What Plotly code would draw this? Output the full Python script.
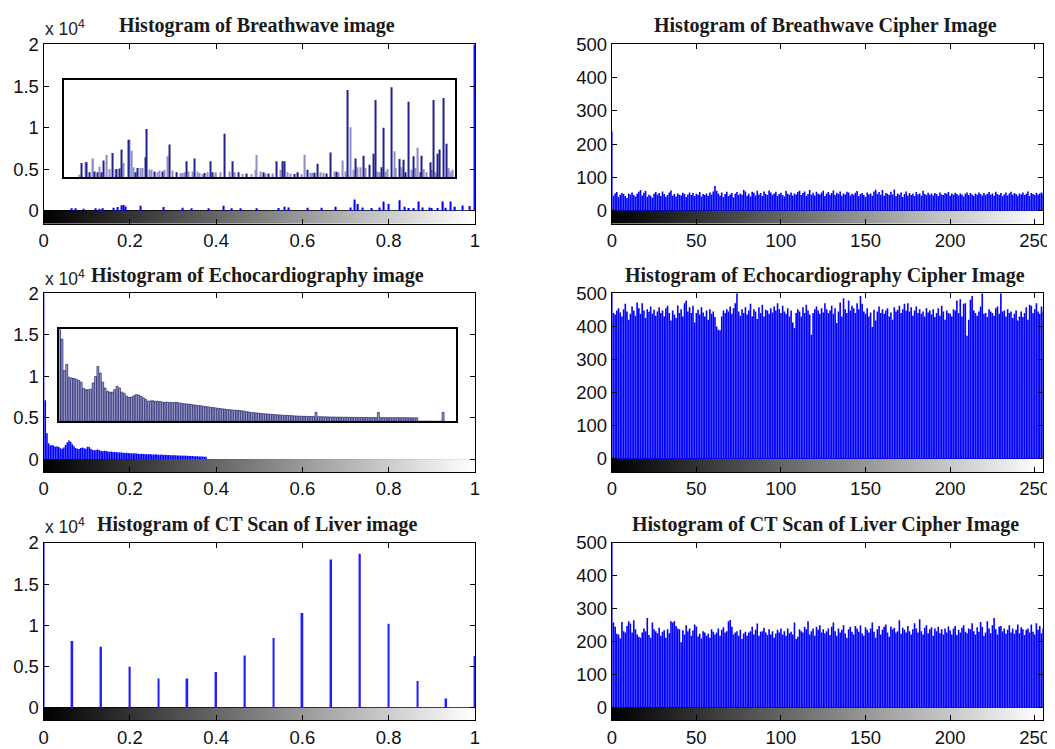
import numpy as np
import plotly.graph_objects as go

# ------------------------------------------------------------------ data
# Breathwave image histogram (sparse: x position in [0,1], pixel count)
bw_bins = [0.066, 0.074, 0.093, 0.120, 0.130, 0.138, 0.163, 0.172, 0.181, 0.186, 0.190, 0.225,
           0.278, 0.323, 0.344, 0.382, 0.417, 0.437, 0.456, 0.495, 0.544, 0.559, 0.567, 0.613,
           0.644, 0.676, 0.711, 0.720, 0.729, 0.740, 0.760, 0.778, 0.789, 0.800, 0.825, 0.836,
           0.846, 0.857, 0.869, 0.879, 0.894, 0.900, 0.914, 0.926, 0.931, 0.944, 0.954, 0.971,
           0.988, 1.000]
bw_counts = [300, 300, 250, 300, 250, 300, 350, 450, 650, 700, 500, 600,
             450, 350, 300, 300, 600, 300, 300, 300, 320, 480, 400, 350,
             350, 480, 400, 1350, 800, 400, 320, 400, 1100, 800, 1270, 480,
             320, 320, 1100, 400, 400, 320, 320, 1100, 350, 1100, 480, 640,
             560, 25000]

# Breathwave zoomed inset (dark and light stems; tops read on the main scale)
bw_inset_dark_x = [0.089, 0.100, 0.107, 0.118, 0.126, 0.135, 0.140, 0.159, 0.169, 0.177, 0.181, 0.196,
                   0.214, 0.218, 0.237, 0.239, 0.257, 0.275, 0.292, 0.308, 0.332, 0.350, 0.373, 0.387,
                   0.392, 0.420, 0.439, 0.452, 0.471, 0.509, 0.522, 0.540, 0.554, 0.559, 0.581, 0.590,
                   0.612, 0.629, 0.635, 0.657, 0.666, 0.680, 0.704, 0.723, 0.741, 0.755, 0.765, 0.769,
                   0.783, 0.788, 0.806, 0.825, 0.834, 0.839, 0.845, 0.857, 0.874, 0.877, 0.896, 0.905,
                   0.914, 0.919, 0.927, 0.934]
bw_inset_dark_top = [5800, 5900, 4700, 4800, 4700, 4700, 6100, 7000, 5100, 5150, 7400, 8570,
                     4700, 5200, 6500, 9850, 4800, 4800, 8000, 4700, 6000, 6350, 4600, 6000,
                     4700, 9300, 6000, 4700, 4550, 4700, 4550, 6000, 6000, 6000, 4500, 4700,
                     5000, 4650, 5700, 4550, 7050, 4750, 14520, 6350, 6670, 5600, 6900, 13330,
                     5300, 10000, 14840, 6270, 6200, 4700, 13100, 6600, 4700, 6670, 5900, 13330,
                     6900, 7400, 13570, 8100]
bw_inset_light_x = [0.084, 0.098, 0.115, 0.129, 0.147, 0.153, 0.167, 0.186, 0.200, 0.205, 0.209, 0.225,
                    0.229, 0.246, 0.251, 0.265, 0.269, 0.280, 0.288, 0.299, 0.317, 0.322, 0.326, 0.337,
                    0.345, 0.357, 0.362, 0.368, 0.381, 0.400, 0.411, 0.431, 0.444, 0.461, 0.483, 0.491,
                    0.494, 0.504, 0.515, 0.532, 0.549, 0.566, 0.573, 0.598, 0.606, 0.620, 0.624, 0.643,
                    0.649, 0.674, 0.684, 0.694, 0.700, 0.712, 0.718, 0.728, 0.735, 0.746, 0.775, 0.780,
                    0.792, 0.797, 0.813, 0.817, 0.829, 0.853, 0.862, 0.868, 0.882, 0.888, 0.899, 0.910,
                    0.938, 0.944, 0.949]
bw_inset_light_top = [4400, 5950, 6350, 5400, 6750, 5100, 5050, 5800, 8570, 7260, 5300, 5200,
                      5200, 5000, 5000, 4700, 4900, 5000, 6600, 4900, 4600, 4600, 4700, 4800,
                      4800, 4800, 4600, 4500, 4700, 4700, 4700, 4800, 4700, 4500, 4500, 5000,
                      6750, 4800, 4550, 4550, 5000, 4700, 4550, 4500, 6800, 4650, 4650, 4700,
                      4650, 4800, 4700, 6100, 4800, 10080, 5000, 5300, 5300, 5200, 4800, 4700,
                      4800, 5100, 7220, 5200, 5300, 5000, 5200, 7620, 5100, 4700, 5000, 4700,
                      5200, 4800, 5000]

# Echocardiography image histogram (bins 0..96 of 256; the rest are empty)
echo_counts = [30000, 7100, 3100, 1900, 1650, 1700, 1600, 1500, 1550, 1450, 1300, 1250, 1400, 1700, 2000, 2250,
               2100, 1800, 1550, 1350, 1250, 1200, 1350, 1400, 1300, 1250, 1500, 1450, 1250, 1100, 1050, 1100,
               1150, 1050, 1000, 950, 1000, 980, 900, 880, 920, 860, 850, 840, 800, 820, 780, 760,
               740, 770, 720, 700, 710, 680, 690, 660, 640, 620, 630, 600, 610, 590, 580, 600,
               560, 550, 570, 540, 530, 520, 540, 500, 510, 490, 480, 470, 460, 450, 460, 440,
               430, 420, 410, 420, 400, 390, 380, 370, 360, 350, 340, 330, 320, 310, 300, 290,
               280]

# Echocardiography zoomed inset (bar tops read on the main scale)
echo_inset_top = [15700, 14500, 10700, 11450, 9900, 9800, 9750, 9650, 9500, 9300, 8550, 8400, 8400, 8450, 9200, 10000,
                  11200, 10400, 9300, 8600, 8200, 8100, 8100, 8400, 8800, 8600, 8100, 7950, 7600, 7450, 7500, 7650,
                  7800, 7750, 7600, 7400, 7200, 7000, 7050, 7050, 7000, 7000, 6950, 6900, 6870, 6880, 6860, 6850,
                  6870, 6840, 6800, 6750, 6700, 6680, 6650, 6600, 6560, 6520, 6480, 6450, 6400, 6360, 6320, 6280,
                  6240, 6200, 6150, 6120, 6080, 6040, 6000, 5980, 5950, 5920, 5900, 5900, 5850, 5800, 5750, 5700,
                  5650, 5620, 5600, 5560, 5530, 5500, 5480, 5450, 5430, 5400, 5380, 5360, 5340, 5320, 5300, 5300,
                  5280, 5260, 5240, 5220, 5200, 5200, 5180, 5180, 5170, 5160, 5150, 5660, 5140, 5130, 5120, 5120,
                  5110, 5100, 5100, 5090, 5090, 5080, 5080, 5070, 5070, 5060, 5060, 5050, 5050, 5050, 5040, 5040,
                  5040, 5030, 5030, 5030, 5020, 5660, 5020, 5020, 5020, 5020, 5020, 5020, 5020, 5020, 5020, 5020,
                  5010, 5010, 5010, 5000, 5000, 5000, 4578, 4578, 4578, 4578, 4578, 4578, 4578, 4578, 4578, 4578,
                  5660]

# CT scan of liver histogram (16 occupied grey levels, multiples of 17)
ct_bins = [0, 17, 34, 51, 68, 85, 102, 119, 136, 153, 170, 187, 204, 221, 238, 255]
ct_counts = [25000, 8080, 7390, 4970, 3550, 3550, 4320, 6340, 8440, 11500, 17980, 18660, 10180, 3230, 1130, 6260]

# Cipher image histograms (256 grey levels each)
bw_cipher = [238, 45, 52, 56, 41, 48, 53, 50, 44, 38, 52, 49, 55, 47, 43, 51,
             57, 62, 46, 54, 60, 42, 48, 45, 39, 51, 56, 48, 53, 44, 58, 50,
             42, 47, 55, 61, 45, 50, 43, 52, 48, 46, 54, 50, 41, 49, 55, 47,
             53, 44, 51, 48, 56, 43, 50, 47, 52, 45, 55, 49, 58, 74, 60, 52,
             46, 55, 41, 50, 57, 44, 49, 53, 40, 51, 56, 47, 52, 48, 62, 58,
             45, 51, 43, 57, 54, 46, 60, 49, 53, 44, 58, 50, 47, 61, 55, 48,
             52, 57, 45, 50, 54, 47, 43, 59, 51, 48, 55, 46, 52, 49, 56, 60,
             47, 53, 58, 45, 50, 62, 48, 54, 46, 57, 51, 49, 55, 60, 44, 52,
             56, 48, 53, 61, 47, 54, 50, 58, 45, 52, 49, 57, 55, 46, 51, 48,
             54, 59, 44, 50, 53, 47, 41, 55, 49, 52, 45, 58, 63, 50, 56, 48,
             62, 45, 53, 51, 47, 57, 49, 64, 44, 52, 48, 55, 41, 50, 58, 46,
             53, 47, 51, 44, 56, 49, 52, 45, 60, 50, 47, 54, 48, 52, 46, 53,
             50, 44, 55, 49, 47, 53, 51, 56, 45, 52, 48, 54, 50, 46, 52, 49,
             43, 51, 55, 47, 53, 49, 45, 52, 48, 55, 50, 46, 53, 47, 51, 56,
             48, 52, 45, 57, 50, 47, 53, 44, 49, 55, 46, 52, 57, 48, 53, 50,
             45, 52, 49, 55, 47, 51, 58, 44, 53, 50, 47, 54, 49, 52, 55, 51]
echo_cipher = [505, 440, 436, 448, 455, 442, 430, 452, 468, 445, 420, 438, 460, 447, 432, 472,
               455, 438, 470, 448, 425, 452, 444, 460, 438, 450, 432, 445, 458, 440, 448, 430,
               455, 462, 440, 418, 448, 436, 425, 463, 440, 452, 430, 470, 478, 445, 458, 440,
               462, 412, 440, 450, 436, 458, 442, 430, 448, 420, 452, 438, 445, 428, 400, 390,
               388, 430, 448, 440, 452, 445, 460, 438, 455, 470, 500, 445, 432, 452, 440, 458,
               436, 448, 468, 430, 452, 445, 422, 458, 440, 465, 430, 450, 448, 438, 455, 442,
               460, 448, 470, 452, 440, 462, 445, 438, 455, 430, 448, 412, 395, 440, 452, 445,
               430, 458, 440, 465, 448, 436, 375, 440, 452, 460, 448, 438, 455, 442, 470, 452,
               440, 448, 462, 438, 455, 410, 445, 472, 430, 485, 452, 440, 478, 448, 462, 455,
               440, 470, 452, 492, 468, 445, 438, 455, 430, 442, 398, 450, 418, 445, 460, 440,
               452, 438, 448, 455, 430, 442, 420, 458, 445, 450, 462, 440, 452, 468, 448, 470,
               445, 458, 432, 448, 460, 440, 452, 438, 445, 430, 455, 442, 448, 436, 452, 428,
               440, 455, 432, 462, 445, 420, 448, 440, 438, 430, 452, 448, 478, 440, 482, 430,
               468, 470, 372, 420, 480, 492, 448, 440, 432, 445, 460, 500, 438, 440, 428, 452,
               445, 440, 432, 455, 460, 438, 500, 445, 448, 430, 452, 440, 445, 425, 438, 448,
               418, 430, 445, 428, 440, 458, 420, 465, 462, 440, 452, 470, 445, 438, 460, 445]
ct_cipher = [520, 258, 245, 224, 222, 210, 260, 232, 228, 248, 262, 255, 228, 265, 238, 222,
             215, 212, 228, 240, 232, 272, 220, 212, 258, 238, 232, 226, 242, 218, 230, 235,
             212, 238, 226, 262, 258, 262, 248, 240, 238, 198, 235, 222, 250, 232, 240, 218,
             234, 252, 246, 216, 224, 210, 232, 228, 218, 224, 212, 238, 230, 222, 228, 240,
             218, 236, 244, 228, 232, 262, 266, 245, 222, 228, 232, 218, 236, 208, 225, 230,
             218, 228, 232, 245, 222, 236, 255, 218, 230, 232, 242, 228, 220, 238, 222, 232,
             212, 225, 236, 228, 240, 222, 232, 218, 240, 226, 230, 222, 258, 208, 215, 238,
             232, 228, 245, 238, 262, 222, 232, 240, 218, 245, 236, 250, 228, 238, 226, 232,
             240, 220, 245, 258, 232, 218, 240, 228, 236, 250, 225, 212, 238, 245, 230, 222,
             248, 240, 230, 250, 226, 218, 244, 236, 228, 240, 258, 230, 212, 238, 248, 222,
             236, 245, 252, 228, 215, 246, 238, 242, 228, 232, 265, 224, 242, 236, 228, 248,
             232, 222, 238, 256, 240, 228, 268, 232, 222, 242, 250, 226, 238, 244, 218, 240,
             232, 245, 226, 238, 222, 240, 228, 246, 234, 222, 240, 248, 220, 236, 228, 242,
             250, 230, 226, 240, 238, 256, 232, 222, 244, 230, 260, 245, 218, 228, 262, 240,
             226, 250, 272, 238, 222, 246, 248, 232, 240, 224, 236, 250, 228, 240, 224, 236,
             252, 226, 244, 238, 220, 236, 240, 228, 252, 230, 222, 256, 236, 248, 226, 240]

titles = ["Histogram of Breathwave image", "Histogram of Breathwave Cipher Image",
          "Histogram of Echocardiography image", "Histogram of Echocardiography Cipher Image",
          "Histogram of CT Scan of Liver image", "Histogram of CT Scan of Liver Cipher Image"]
left_xticks = [0, 0.2, 0.4, 0.6, 0.8, 1]
left_xtext = ["0", "0.2", "0.4", "0.6", "0.8", "1"]
left_yticks = [0, 5000, 10000, 15000, 20000]
left_ytext = ["0", "0.5", "1", "1.5", "2"]
right_xticks = [0, 50, 100, 150, 200, 250]
right_yticks = [0, 100, 200, 300, 400, 500]

# ------------------------------------------------------------------ layout helpers
# Target positions are given in window pixels; they are converted to figure
# fractions with the page placement/scale observed for this viewer.
W, H = 1055, 749
SX, BX = 0.99, 12.4
SY, BY = 0.987, 18.0
def px(x):
    return ((x - BX) / SX) / W
def py(y):
    return 1 - ((y - BY) / SY) / H

LEFT = [px(43), px(475)]
RIGHT = [px(612), px(1044)]
ROWS = [[py(223), py(43.5)], [py(471.7), py(292.7)], [py(720.7), py(542.7)]]
LEFT_YMIN, RIGHT_YMIN = -1550, -39

BLUE = "#0000ff"
BAR_BLUE = "rgba(0,0,255,0.995)"
TICKFONT = dict(family="Liberation Sans, Arial, sans-serif", size=18.5, color="#111111")

fig = go.Figure()
layout = dict(width=W, height=H, margin=dict(l=0, r=0, t=0, b=0),
              paper_bgcolor="white", plot_bgcolor="white", showlegend=False,
              barmode="overlay", annotations=[])

def axis_common():
    return dict(ticks="inside", ticklen=5, tickwidth=1, tickcolor="black",
                showline=True, linecolor="black", linewidth=1, mirror="ticks",
                showgrid=False, zeroline=False, tickfont=TICKFONT, fixedrange=True)

gray = [[0, "black"], [1, "white"]]
grad = list(range(256))

for k in range(6):
    n = k + 1
    xa = "x" if n == 1 else f"x{n}"
    ya = "y" if n == 1 else f"y{n}"
    row, col = k // 2, k % 2
    left = col == 0
    xd = LEFT if left else RIGHT
    xrng = [0, 1] if left else [0, 255]
    ymin = LEFT_YMIN if left else RIGHT_YMIN
    yrng = [ymin, 20000] if left else [ymin, 500]
    xax = axis_common()
    xax.update(domain=xd, range=xrng, anchor=ya,
               tickvals=left_xticks if left else right_xticks,
               ticktext=left_xtext if left else [str(v) for v in right_xticks])
    yax = axis_common()
    yax.update(domain=ROWS[row], range=yrng, anchor=xa,
               tickvals=left_yticks if left else right_yticks,
               ticktext=left_ytext if left else [str(v) for v in right_yticks],
               zeroline=True, zerolinecolor="black", zerolinewidth=1)
    layout["xaxis" if n == 1 else f"xaxis{n}"] = xax
    layout["yaxis" if n == 1 else f"yaxis{n}"] = yax

    # grey-level colour bar below the histogram
    edges = np.linspace(xrng[0], xrng[1], 257)
    fig.add_trace(go.Heatmap(z=[grad], x=edges, y=[ymin, 0], colorscale=gray, zmin=0, zmax=255,
                             showscale=False, hoverinfo="skip", xaxis=xa, yaxis=ya))

    # title
    layout["annotations"].append(dict(
        text=f"<b>{titles[k]}</b>", x=px(257 if left else 826), y=py([25, 275, 524][row]),
        xref="paper", yref="paper", xanchor="center", yanchor="middle", showarrow=False,
        font=dict(family="Liberation Serif, Times New Roman, serif", size=20, color="#1a1a1a")))
    if left:
        layout["annotations"].append(dict(
            text="x 10<sup>4</sup>", x=px(42), y=py([27, 277, 526][row]),
            xref="paper", yref="paper", xanchor="left", yanchor="middle", showarrow=False,
            font=dict(family="Liberation Sans, Arial, sans-serif", size=17.5, color="#222222")))

lvl = np.arange(256)
# Breathwave
fig.add_trace(go.Bar(x=bw_bins, y=bw_counts, width=0.0028, marker=dict(color=BLUE, line=dict(width=0)),
                     xaxis="x", yaxis="y"))
fig.add_trace(go.Bar(x=lvl, y=bw_cipher, width=0.95, marker=dict(color=BAR_BLUE, line=dict(width=0)),
                     xaxis="x2", yaxis="y2"))
# Echocardiography
echo_x = np.arange(len(echo_counts)) / 255
fig.add_trace(go.Bar(x=echo_x, y=echo_counts, width=0.93 / 255,
                     marker=dict(color=BAR_BLUE, line=dict(width=0)), xaxis="x3", yaxis="y3"))
fig.add_trace(go.Bar(x=lvl, y=echo_cipher, width=0.95, marker=dict(color=BAR_BLUE, line=dict(width=0)),
                     xaxis="x4", yaxis="y4"))
# CT
fig.add_trace(go.Bar(x=np.array(ct_bins) / 255, y=ct_counts, width=0.004,
                     marker=dict(color="#2020ff", line=dict(width=0)), xaxis="x5", yaxis="y5"))
fig.add_trace(go.Bar(x=lvl, y=ct_cipher, width=0.95, marker=dict(color=BAR_BLUE, line=dict(width=0)),
                     xaxis="x6", yaxis="y6"))

# ------------------------------------------------------------------ insets
inset_axis = dict(showline=True, linecolor="black", linewidth=2, mirror=True, ticks="",
                  showticklabels=False, showgrid=False, zeroline=False, fixedrange=True)
BW_BASE, BW_TOP = 4107, 15714
layout["xaxis7"] = dict(inset_axis, domain=[px(63), px(455)], range=[0.0463, 0.9537], anchor="y7")
layout["yaxis7"] = dict(inset_axis, domain=[py(176.5), py(79)], range=[BW_BASE, BW_TOP], anchor="x7")
fig.add_trace(go.Bar(x=bw_inset_light_x, y=[v - BW_BASE for v in bw_inset_light_top], base=BW_BASE,
                     width=0.0030, marker=dict(color="#8e8ec8", line=dict(width=0)),
                     xaxis="x7", yaxis="y7"))
fig.add_trace(go.Bar(x=bw_inset_dark_x, y=[v - BW_BASE for v in bw_inset_dark_top], base=BW_BASE,
                     width=0.0026, marker=dict(color="#22228e", line=dict(width=0)),
                     xaxis="x7", yaxis="y7"))

EC_BASE, EC_TOP = 4578, 15663
layout["xaxis8"] = dict(inset_axis, domain=[px(58.3), px(456.3)], range=[-0.3, 165.5], anchor="y8")
layout["yaxis8"] = dict(inset_axis, domain=[py(421), py(329)], range=[EC_BASE, EC_TOP], anchor="x8")
fig.add_trace(go.Bar(x=np.arange(len(echo_inset_top)), y=[v - EC_BASE for v in echo_inset_top],
                     base=EC_BASE, width=0.8,
                     marker=dict(color="#a4a4d0", line=dict(color="#1c1c66", width=0.7)),
                     xaxis="x8", yaxis="y8"))

fig.update_layout(**layout)
fig.write_html("out.html")
